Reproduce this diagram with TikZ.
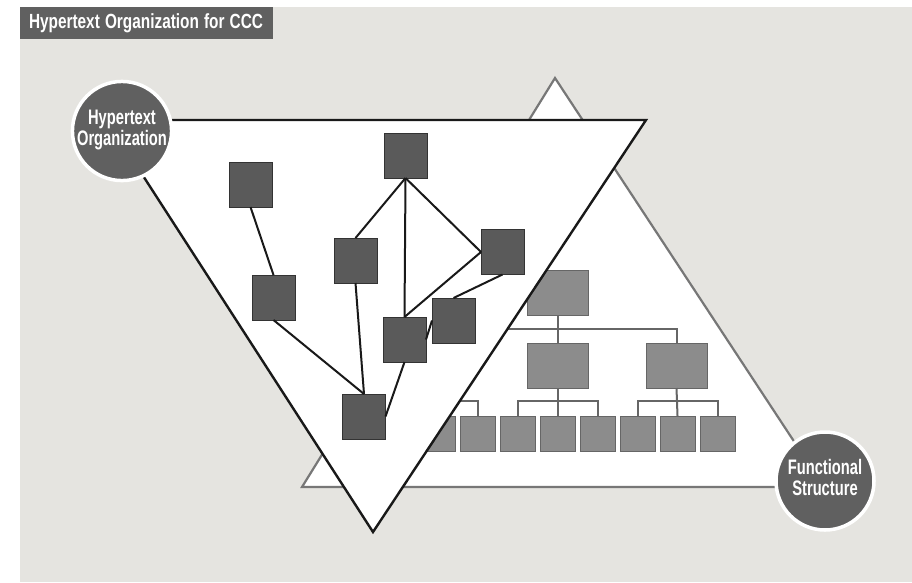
\documentclass[tikz,border=0pt]{standalone}
\usepackage{fontspec}
\usepackage{graphicx}
\usepackage{tikz}
\usetikzlibrary{positioning}
\newfontfamily\labelfont{Liberation Sans}
\newcommand{\squeeze}[1]{\scalebox{0.7}[1]{#1}}
\definecolor{paper}{HTML}{E5E4E0}
\definecolor{darkbox}{HTML}{5A5A5A}
\definecolor{midbox}{HTML}{8C8C8C}
\definecolor{orgline}{HTML}{666666}
\definecolor{trigrey}{HTML}{777777}
\definecolor{titlegrey}{HTML}{606060}

\begin{document}
\begin{tikzpicture}[
  x=1pt, y=-1pt,
  node distance=5pt,
  hyper/.style={rectangle, draw=black!80, fill=darkbox, line width=0.6pt,
                minimum width=43pt, minimum height=45pt, inner sep=0pt, outer sep=0pt},
  unit/.style={rectangle, draw=orgline, fill=midbox, line width=0.6pt,
               minimum width=61pt, minimum height=45pt, inner sep=0pt, outer sep=0pt},
  leaf/.style={unit, minimum width=35pt, minimum height=35pt},
  link/.style={line width=2pt, draw=black!90},
  tie/.style={line width=2pt, draw=orgline},
  badge/.style={circle, fill=titlegrey, draw=white, line width=3.5pt, minimum size=98pt,
                inner sep=0pt, text=white,
                font=\labelfont\bfseries\fontsize{21}{21}\selectfont}
]
  \useasboundingbox (0,0) rectangle (912,582);
  % 背景与标题
  \fill[paper] (20,7) rectangle (912,582);
  \node[anchor=north west, fill=titlegrey, text=white, minimum height=32pt,
        text width=235pt, align=left, inner xsep=9pt, inner ysep=0pt, outer sep=0pt,
        font=\labelfont\bfseries\fontsize{20.5}{20.5}\selectfont] (title) at (20,7)
        {\scalebox{0.75}[1]{Hypertext Organization for CCC}};

  % 职能结构
  \draw[trigrey, fill=white, line width=2.2pt] (555,78) -- (302,487) -- (824,487) -- cycle;
  \node[unit] (top) at (557.5,292.5) {};
  \node[unit, below=28pt of top] (midA) {};
  \node[unit, right=58pt of midA] (midB) {};
  \node[leaf, below=28pt of midA] (b4) {};
  \node[leaf, left=of b4] (b3) {};
  \node[leaf, left=of b3] (b2) {};
  \node[leaf, left=of b2] (b1) {};
  \node[leaf, right=of b4] (b5) {};
  \node[leaf, right=of b5] (b6) {};
  \node[leaf, right=of b6] (b7) {};
  \node[leaf, right=of b7] (b8) {};

  \draw[tie] (top.south) -- ++(0,14) coordinate (bar);
  \draw[tie] (top.south) -- (midA.north);
  \draw[tie] (bar) -| (midB.north);
  \draw[tie] (bar) -| (b1.north);
  \draw[tie] (midA.south) -- (b4.north);
  \draw[tie] (b3.north) -- ++(0,-15) -| (b5.north);
  \draw[tie] (midB.south) -- (b7.north);
  \draw[tie] (b6.north) -- ++(0,-15) -| (b8.north);
  \draw[tie] (b2.north) -- ++(0,-15) -| (b1.north);

  % 超文本组织
  \draw[black!90, fill=white, line width=2.4pt] (107,120) -- (646,120) -- (373,532) -- cycle;
  \node[hyper] (ha) at (250.5,184.5) {};
  \node[hyper] (hb) at (405.5,155.5) {};
  \node[hyper] (hc) at (273.5,297.5) {};
  \node[hyper] (hd) at (355.5,260.5) {};
  \node[hyper] (he) at (502.5,252) {};
  \node[hyper] (hf) at (404.5,339.5) {};
  \node[hyper] (hg) at (453.5,320.5) {};
  \node[hyper] (hh) at (364,416.5) {};

  \draw[link] (ha.south) -- (hc.north);
  \draw[link] (hc.south) -- (hh.north);
  \draw[link] (hd.south) -- (hh.north);
  \draw[link] (hf.south) -- (hh.east);
  \draw[link] (hb.south) -- (hd.north);
  \draw[link] (hb.south) -- (hf.north);
  \draw[link] (hb.south) -- (he.west);
  \draw[link] (he.west) -- (hf.north);
  \draw[link] (he.south) -- (hg.north);
  \draw[link] (hg.west) -- (hf.east);

  % 圆形标签
  \node[badge] (hyperlabel) at (122,131)
    {\squeeze{\begin{tabular}{@{}c@{}}Hypertext\\Organization\end{tabular}}};
  \node[badge] (funclabel) at (825,481)
    {\squeeze{\begin{tabular}{@{}c@{}}Functional\\Structure\end{tabular}}};

\end{tikzpicture}
\end{document}
